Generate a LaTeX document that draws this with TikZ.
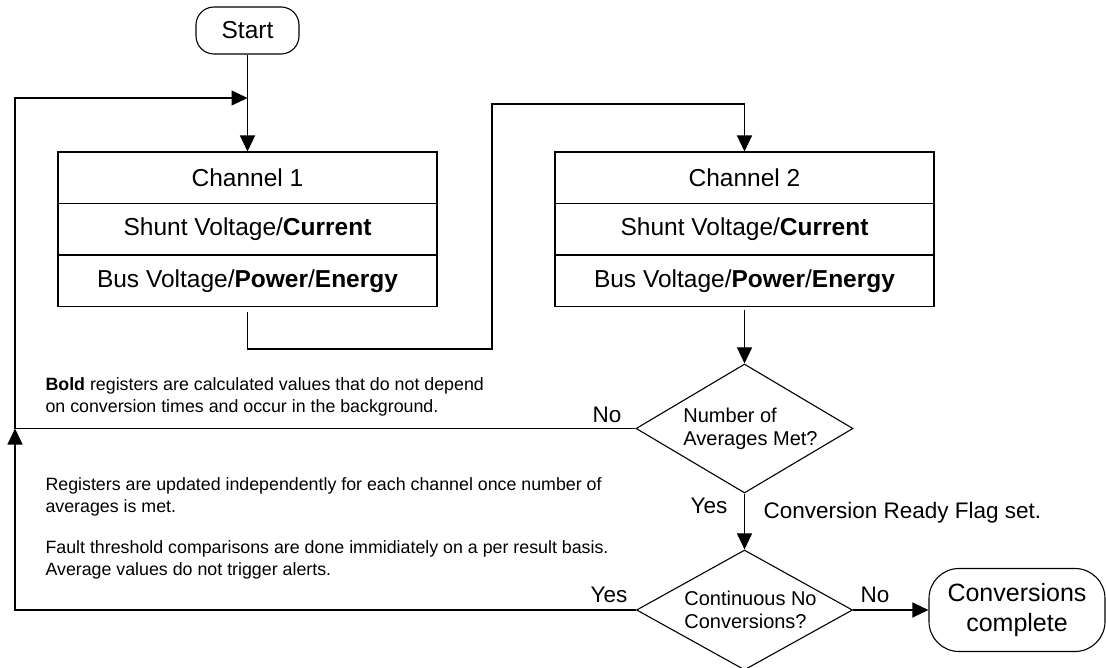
\documentclass[tikz,border=0pt]{standalone}
\usepackage{fontspec}
\setmainfont{Liberation Sans}
\usetikzlibrary{shapes.geometric,arrows.meta}

\begin{document}
\begin{tikzpicture}[x=1pt, y=1pt, node distance=51.5pt, line width=1.1pt,
    row/.style={draw, rectangle, minimum width=379pt, minimum height=51.5pt, inner sep=0pt, font=\fontsize{24.5}{28}\selectfont},
    term/.style={draw, rectangle, inner sep=0pt, align=center},
    decision/.style={draw, diamond, inner sep=0pt},
    dtext/.style={align=left, inner sep=0pt, xshift=6pt, font=\fontsize{20}{23}\selectfont},
    flow/.style={-{Triangle[length=16pt, width=15pt]}},
    lbl/.style={inner sep=0pt, anchor=base, font=\fontsize{22.5}{26}\selectfont},
    note/.style={inner sep=0pt, anchor=base west, align=left, font=\fontsize{17.8}{22}\selectfont}]
    \useasboundingbox (0,0) rectangle (1106,-668);

    % Start
    \node[term, rounded corners=18pt, minimum width=103pt, minimum height=47pt, font=\fontsize{24.5}{28}\selectfont] (start) at (247.5,-30.5) {Start};

    % Channel 1 (Left Side)
    \node[row] (ch1a) at (247.5,-177.8) {Channel 1};
    \node[row, below of=ch1a] (ch1b) {Shunt Voltage/\textbf{Current}};
    \node[row, below of=ch1b] (ch1c) {Bus Voltage/\textbf{Power}/\textbf{Energy}};

    % Channel 2 (Right Side)
    \node[row, right of=ch1a, xshift=445.5pt] (ch2a) {Channel 2};
    \node[row, below of=ch2a] (ch2b) {Shunt Voltage/\textbf{Current}};
    \node[row, below of=ch2b] (ch2c) {Bus Voltage/\textbf{Power}/\textbf{Energy}};

    % Decisions
    \node[decision, minimum width=217pt, minimum height=129pt, label={[dtext]center:{Number of\\Averages Met?}}] (avg) at (744.5,-428.5) {};
    \node[decision, minimum width=216pt, minimum height=120pt, label={[dtext]center:{Continuous No\\Conversions?}}] (cont) at (744.5,-610) {};
    \node[term, rounded corners=30pt, minimum width=176pt, minimum height=83pt, font=\fontsize{25}{30}\selectfont] (done) at (1017,-610) {Conversions\\complete};

    % Notes (base = last line)
    \node[note] (note1) at (45,-412) {\textbf{Bold} registers are calculated values that do not depend\\on conversion times and occur in the background.};
    \node[note] (note2) at (45,-512) {Registers are updated independently for each channel once number of\\averages is met.};
    \node[note] (note3) at (45,-575) {Fault threshold comparisons are done immidiately on a per result basis.\\Average values do not trigger alerts.};

    % Labels
    \node[lbl] (noavg) at (607,-422) {No};
    \node[lbl] (yesavg) at (709,-513) {Yes};
    \node[lbl, anchor=base west] (flagset) at (763,-518) {Conversion Ready Flag set.};
    \node[lbl] (yescont) at (609,-602) {Yes};
    \node[lbl] (nocont) at (875,-602) {No};

    % Connections
    \coordinate (hop1) at (492,-349);
    \coordinate (hop2) at (492,-104);
    \coordinate (loopjoin) at (15,-428.5);
    \coordinate (loopin) at (247.5,-98);
    \draw[flow] (start) -- (ch1a);
    \draw[flow, shorten <=5pt] (ch1c.south) |- (hop1) -- (hop2) -| (ch2a.north);
    \draw[flow, shorten <=3pt] (ch2c) -- (avg);
    \draw[flow] (avg) -- (cont);
    \draw[flow] (cont) -- (done);
    \draw (avg.west) -- (loopjoin);
    \draw[flow] (cont.west) -| (loopjoin);
    \draw[flow] (loopjoin) |- (loopin);
\end{tikzpicture}
\end{document}
